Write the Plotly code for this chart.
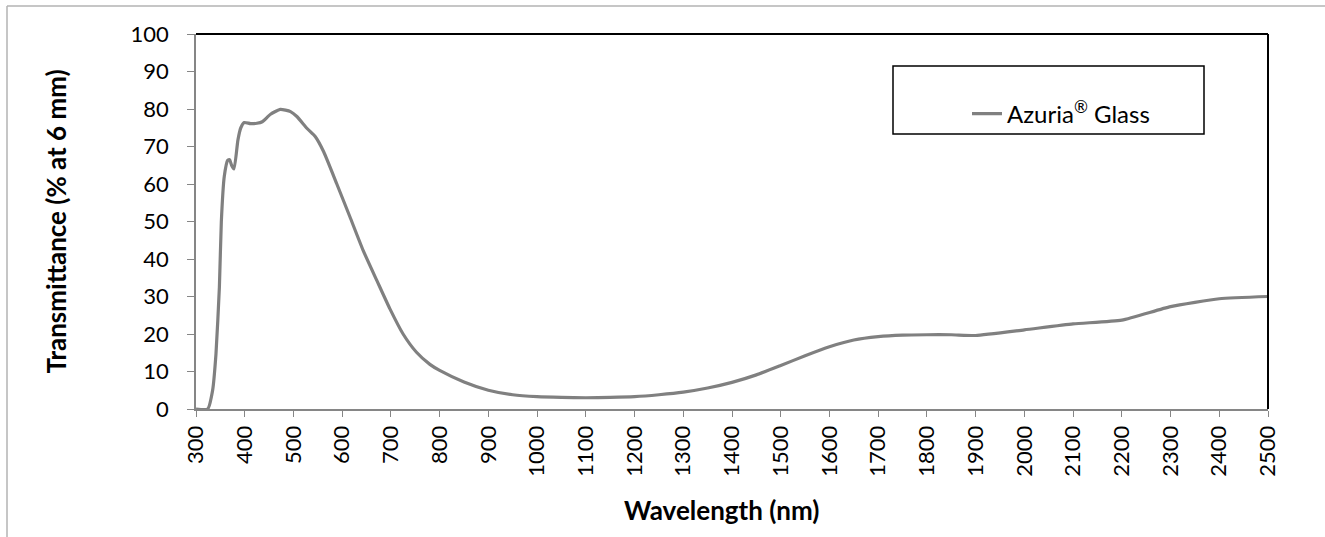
import plotly.graph_objects as go

wavelength = [300, 324, 334, 341, 348, 352, 358, 365, 369, 373, 378, 386, 392, 399,
              412, 425, 436, 453, 473, 494, 507, 528, 545, 562, 589, 616, 643, 671,
              698, 725, 752, 780, 800, 850, 900, 950, 1000, 1050, 1100, 1150, 1200,
              1250, 1300, 1350, 1400, 1450, 1500, 1550, 1600, 1650, 1700, 1750, 1800,
              1850, 1900, 2000, 2100, 2200, 2300, 2400, 2500]
transmittance = [0.0, 0.0, 4.9, 14.7, 32.5, 50.0, 62.0, 66.3, 66.5, 65.0, 64.0, 71.7,
                 75.0, 76.4, 76.1, 76.2, 76.6, 78.6, 79.9, 79.3, 78.0, 74.8, 72.6,
                 68.6, 60.0, 51.2, 42.3, 34.3, 26.7, 20.0, 15.2, 11.9, 10.3, 7.2, 5.0,
                 3.8, 3.3, 3.1, 3.0, 3.1, 3.3, 3.8, 4.5, 5.6, 7.1, 9.1, 11.6, 14.2,
                 16.6, 18.4, 19.3, 19.7, 19.8, 19.8, 19.6, 21.1, 22.7, 23.7, 27.3,
                 29.4, 30.0]
series_name = "Azuria<sup>®</sup> Glass"
x_title = "Wavelength (nm)"
y_title = "Transmittance (% at 6 mm)"

W, H = 1325, 537
L, R, T, B = 196, 57, 34, 128
pw, ph = W - L - R, H - T - B


def px(x):
    return (x - L) / pw


def py(y):
    return (H - B - y) / ph


FONT = "Lato"
TICK_SIZE = 22
TITLE_SIZE = 26

fig = go.Figure()
fig.add_trace(go.Scatter(
    x=wavelength, y=transmittance, mode="lines", name=series_name,
    line=dict(color="#808080", width=3.2, shape="spline", smoothing=0.5),
    showlegend=True,
))

fig.update_layout(
    width=W, height=H, autosize=False,
    margin=dict(l=L, r=R, t=T, b=B),
    paper_bgcolor="white", plot_bgcolor="white",
    font=dict(family=FONT, size=TICK_SIZE, color="black"),
    showlegend=True,
    legend=dict(x=px(967), y=py(114), xanchor="left", yanchor="middle",
                bgcolor="rgba(0,0,0,0)", borderwidth=0,
                font=dict(family=FONT, size=24, color="black"),
                itemwidth=30),
    xaxis=dict(range=[300, 2500], dtick=100, tick0=300, tickangle=-90,
               showgrid=False, zeroline=False, showline=True,
               linecolor="#868686", linewidth=2, ticks="outside",
               ticklen=6, tickcolor="#868686", tickwidth=1,
               tickfont=dict(family=FONT, size=TICK_SIZE, color="black")),
    yaxis=dict(range=[0, 100], dtick=10, tick0=0,
               showgrid=False, zeroline=False, showline=True,
               linecolor="#868686", linewidth=1.5, ticks="outside",
               ticklen=7, tickcolor="#868686", tickwidth=1,
               ticklabelstandoff=14,
               tickfont=dict(family=FONT, size=TICK_SIZE, color="black")),
    annotations=[
        dict(text="<b>" + x_title + "</b>", xref="paper", yref="paper",
             x=0.49, y=py(510), xanchor="center", yanchor="middle",
             showarrow=False, font=dict(family=FONT, size=TITLE_SIZE, color="black")),
        dict(text="<b>" + y_title + "</b>", xref="paper", yref="paper",
             x=px(55), y=0.5, xanchor="center", yanchor="middle",
             textangle=-90, showarrow=False,
             font=dict(family=FONT, size=TITLE_SIZE, color="black")),
    ],
    shapes=[
        # plot area top and right border
        dict(type="line", xref="paper", yref="paper", x0=0, x1=1, y0=1, y1=1,
             line=dict(color="black", width=2)),
        dict(type="line", xref="paper", yref="paper", x0=1, x1=1, y0=0, y1=1,
             line=dict(color="black", width=2)),
        # legend box
        dict(type="rect", xref="paper", yref="paper",
             x0=px(893), x1=px(1204), y0=py(134), y1=py(66),
             line=dict(color="black", width=1.5), fillcolor="rgba(0,0,0,0)",
             layer="below"),
        # chart area border (left and top)
        dict(type="line", xref="paper", yref="paper",
             x0=px(7), x1=px(7), y0=py(6), y1=py(540),
             line=dict(color="#b3b3b3", width=1.5)),
        dict(type="line", xref="paper", yref="paper",
             x0=px(7), x1=px(1330), y0=py(6), y1=py(6),
             line=dict(color="#b3b3b3", width=1.5)),
    ],
)

fig.write_html(
    "out.html",
    config={"displayModeBar": False},
    post_script="document.body.style.margin='0px';document.body.style.overflow='hidden';",
)
